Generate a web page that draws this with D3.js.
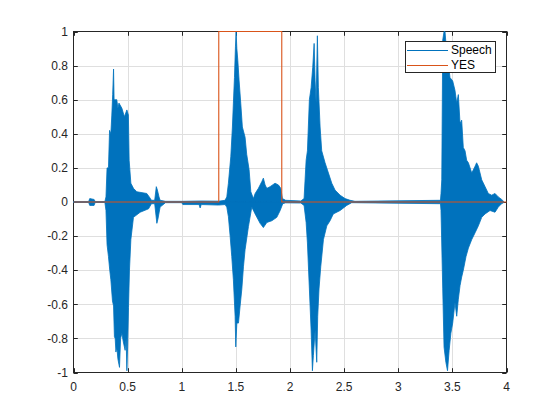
<!DOCTYPE html>
<html>
<head>
<meta charset="utf-8">
<script src="https://cdn.jsdelivr.net/npm/d3@7"></script>
<style>
html,body{margin:0;padding:0;background:#fff;}
svg{display:block;font-family:"Liberation Sans",Arial,Helvetica,sans-serif;}
</style>
</head>
<body>
<svg id="chart" width="560" height="420"></svg>
<script>
// Speech waveform envelope (upper and lower)
const upperTime = [0,0.14,0.15,0.19,0.20,0.29,0.30,0.31,0.323,0.333,0.345,0.354,0.362,0.37,0.375,0.385,0.40,0.41,0.42,0.447,0.47,0.493,0.507,0.514,0.53,0.554,0.585,0.677,0.70,0.72,0.75,0.765,0.775,0.79,0.80,0.85,
  1.0,1.17,1.342,1.40,1.416,1.431,1.453,1.468,1.477,1.487,1.496,1.502,1.509,1.518,1.53,1.545,1.56,1.585,1.60,1.622,1.638,1.662,1.678,1.708,1.74,1.754,1.77,1.786,1.816,1.862,1.893,1.915,1.93,1.96,
  2.10,2.13,2.149,2.161,2.179,2.195,2.21,2.223,2.232,2.241,2.253,2.262,2.278,2.293,2.324,2.355,2.386,2.416,2.463,2.509,2.555,2.60,
  3.39,3.395,3.402,3.411,3.423,3.432,3.448,3.463,3.478,3.503,3.524,3.54,3.555,3.571,3.586,3.601,3.617,3.632,3.648,3.679,3.71,3.724,3.74,3.771,3.802,3.832,3.863,3.894,3.924,3.955,3.975];
const speechUpper = [0.003,0.003,0.02,0.015,0.003,0.003,0.03,0.20,0.20,0.42,0.40,0.51,0.63,0.78,0.60,0.60,0.60,0.55,0.58,0.55,0.50,0.54,0.51,0.245,0.11,0.08,0.06,0.05,0.03,0.01,0.01,0.09,0.07,0.03,0.01,0.004,
  0.004,0.006,0.005,0.01,0.03,0.11,0.265,0.44,0.58,0.73,0.91,1.0,0.90,0.83,0.71,0.58,0.44,0.38,0.28,0.19,0.06,0.02,0.05,0.08,0.12,0.14,0.10,0.08,0.09,0.11,0.10,0.08,0.02,0.01,
  0.006,0.02,0.245,0.30,0.60,0.67,0.79,0.93,0.71,0.58,0.975,0.67,0.44,0.30,0.23,0.17,0.11,0.07,0.04,0.02,0.01,0.004,
  0.01,0.05,0.13,0.95,1.0,1.0,0.87,0.81,0.73,0.71,0.655,0.58,0.63,0.46,0.48,0.32,0.30,0.245,0.23,0.17,0.21,0.23,0.21,0.13,0.09,0.05,0.04,0.05,0.03,0.015,0.003];
const lowerTime = [0,0.14,0.15,0.19,0.20,0.29,0.30,0.31,0.323,0.335,0.345,0.36,0.37,0.378,0.385,0.392,0.40,0.41,0.425,0.435,0.447,0.46,0.477,0.486,0.493,0.50,0.508,0.517,0.53,0.554,0.616,0.693,0.72,0.75,0.77,0.78,0.80,0.85,
  1.0,1.01,1.16,1.17,1.18,1.34,1.40,1.416,1.431,1.447,1.462,1.477,1.493,1.499,1.509,1.524,1.539,1.555,1.57,1.585,1.616,1.647,1.678,1.724,1.754,1.786,1.832,1.878,1.909,1.933,1.96,
  2.10,2.13,2.149,2.161,2.179,2.195,2.207,2.216,2.232,2.247,2.256,2.268,2.284,2.309,2.34,2.37,2.40,2.463,2.524,2.57,
  3.39,3.395,3.411,3.423,3.44,3.455,3.47,3.486,3.503,3.524,3.54,3.555,3.571,3.586,3.601,3.626,3.648,3.679,3.71,3.74,3.771,3.802,3.848,3.894,3.924,3.955,3.975];
const speechLower = [-0.003,-0.003,-0.02,-0.02,-0.003,-0.003,-0.05,-0.25,-0.32,-0.40,-0.456,-0.58,-0.61,-0.79,-0.80,-0.88,-0.85,-0.92,-0.97,-0.80,-0.77,-0.82,-0.87,-0.80,-0.99,-0.85,-0.62,-0.40,-0.22,-0.09,-0.06,-0.04,-0.01,-0.01,-0.125,-0.10,-0.03,-0.004,
  -0.004,-0.015,-0.015,-0.035,-0.015,-0.018,-0.015,-0.03,-0.086,-0.20,-0.32,-0.456,-0.67,-0.85,-0.71,-0.71,-0.61,-0.51,-0.38,-0.28,-0.144,-0.03,-0.07,-0.125,-0.15,-0.12,-0.11,-0.09,-0.05,-0.01,-0.005,
  -0.006,-0.02,-0.12,-0.24,-0.51,-0.75,-0.99,-0.90,-0.75,-0.94,-0.67,-0.51,-0.38,-0.22,-0.14,-0.11,-0.07,-0.05,-0.02,-0.004,
  -0.01,-0.05,-0.51,-0.85,-0.94,-0.99,-0.87,-0.77,-0.71,-0.59,-0.67,-0.57,-0.49,-0.44,-0.40,-0.32,-0.27,-0.22,-0.18,-0.14,-0.09,-0.07,-0.05,-0.06,-0.03,-0.01,-0.003];
// YES indicator
const yesTime  = [0, 1.342, 1.342, 1.924, 1.924, 4];
const yesValue = [0, 0, 1, 1, 0, 0];
// Ticks
const xTicks = [0,0.5,1,1.5,2,2.5,3,3.5,4];
const yTicks = [-1,-0.8,-0.6,-0.4,-0.2,0,0.2,0.4,0.6,0.8,1];
const seriesNames = ["Speech","YES"];
const seriesColors = ["#0072BD","#D95319"];

const svg = d3.select("#chart");
const x = d3.scaleLinear().domain([0,4]).range([73.5,506.5]);
const y = d3.scaleLinear().domain([-1,1]).range([372.5,31.5]);
const axisColor = "#262626";
const fmt = d => String(d);

// grid
const grid = svg.append("g");
grid.selectAll("line.gx").data(xTicks.slice(1,-1)).enter().append("line")
  .attr("x1", d=>Math.round(x(d))+0.5).attr("x2", d=>Math.round(x(d))+0.5)
  .attr("y1", y(-1)).attr("y2", y(1)).attr("stroke","#DFDFDF").attr("stroke-width",1);
grid.selectAll("line.gy").data(yTicks.slice(1,-1)).enter().append("line")
  .attr("y1", d=>Math.round(y(d))+0.5).attr("y2", d=>Math.round(y(d))+0.5)
  .attr("x1", x(0)).attr("x2", x(4)).attr("stroke","#DFDFDF").attr("stroke-width",1);

// box
svg.append("rect").attr("x", x(0)).attr("y", y(1)).attr("width", x(4)-x(0)).attr("height", y(-1)-y(1))
  .attr("fill","none").attr("stroke",axisColor).attr("stroke-width",1);

// ticks (inward, all four sides)
const tl = 4.3;
const tk = svg.append("g").attr("stroke",axisColor).attr("stroke-width",1);
xTicks.forEach(d=>{
  const px = Math.round(x(d))+0.5;
  tk.append("line").attr("x1",px).attr("x2",px).attr("y1",y(-1)).attr("y2",y(-1)-tl);
  tk.append("line").attr("x1",px).attr("x2",px).attr("y1",y(1)).attr("y2",y(1)+tl);
});
yTicks.forEach(d=>{
  const py = Math.round(y(d))+0.5;
  tk.append("line").attr("y1",py).attr("y2",py).attr("x1",x(0)).attr("x2",x(0)+tl);
  tk.append("line").attr("y1",py).attr("y2",py).attr("x1",x(4)).attr("x2",x(4)-tl);
});

// speech envelope
const up = upperTime.map((t,i)=>[t,speechUpper[i]]);
const lo = lowerTime.map((t,i)=>[t,speechLower[i]]);
const area = d3.area().x(d=>x(d[0])).y0(y(0)).y1(d=>y(d[1]));
[up, lo].forEach(dd => {
  svg.append("path").datum(dd).attr("d", area)
    .attr("fill", seriesColors[0]).attr("stroke", seriesColors[0])
    .attr("stroke-width",0.8).attr("stroke-linejoin","round");
});

// YES line
const yes = yesTime.map((t,i)=>[t,yesValue[i]]);
svg.append("path").datum(yes)
  .attr("d", d3.line().x(d=>x(d[0])).y(d=>y(d[1])))
  .attr("fill","none").attr("stroke", seriesColors[1]).attr("stroke-width",1.1);

// tick labels
svg.append("g").selectAll("text").data(xTicks).enter().append("text")
  .attr("x", d=>x(d)).attr("y", 391).attr("text-anchor","middle")
  .attr("font-size",12).attr("fill",axisColor).text(fmt);
svg.append("g").selectAll("text").data(yTicks).enter().append("text")
  .attr("x", 68).attr("y", d=>y(d)).attr("dy","0.35em").attr("text-anchor","end")
  .attr("font-size",12).attr("fill",axisColor).text(fmt);

// legend
const lg = svg.append("g");
lg.append("rect").attr("x",405.5).attr("y",41.5).attr("width",90).attr("height",31)
  .attr("fill","#fff").attr("stroke",axisColor).attr("stroke-width",1);
seriesNames.forEach((n,i)=>{
  const ly = 50 + i*15;
  lg.append("line").attr("x1",407).attr("x2",448).attr("y1",ly+0.5).attr("y2",ly+0.5)
    .attr("stroke",seriesColors[i]).attr("stroke-width",1);
  lg.append("text").attr("x",451).attr("y",ly).attr("dy","0.36em")
    .attr("font-size",12).attr("fill","#000").text(n);
});
</script>
</body>
</html>
